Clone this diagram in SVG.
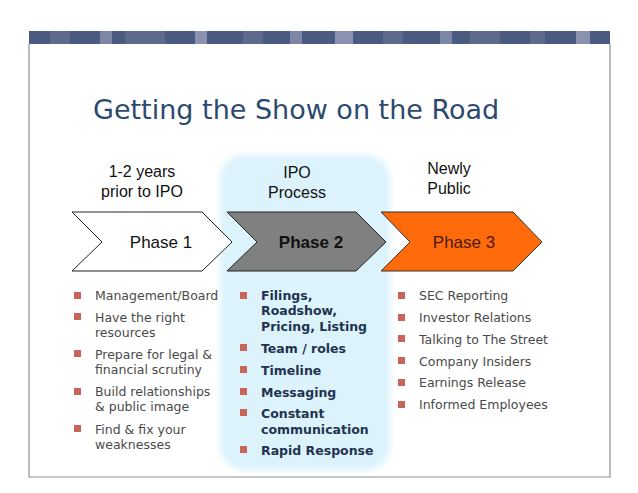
<svg xmlns="http://www.w3.org/2000/svg" width="638" height="493" viewBox="0 0 638 493">
<defs>
<style>
.b{fill:#c8645a}
.t{font-family:"DejaVu Sans",Verdana,sans-serif;font-size:12.5px;fill:#4a4a4a}
.tb{font-family:"DejaVu Sans",Verdana,sans-serif;font-size:12.5px;font-weight:bold;fill:#1f3350}
.h{font-family:"Liberation Sans",Arial,sans-serif;font-size:16px;fill:#111;text-anchor:middle}
.p{font-family:"Liberation Sans",Arial,sans-serif;font-size:17px;text-anchor:middle}
</style>
<filter id="soft" x="-20%" y="-20%" width="140%" height="140%"><feGaussianBlur stdDeviation="3"/></filter>
</defs>
<rect width="638" height="493" fill="#fff"/>
<g id="frame">
<path d="M29 44 V477 H610 V44" fill="none" stroke="#8a8f99" stroke-width="1.2"/>
<rect x="29" y="31" width="581" height="13" fill="#4a5a80"/>
<rect x="50" y="31" width="20" height="13" fill="#5d6a8c"/>
<rect x="100" y="31" width="12" height="13" fill="#7d86a6"/>
<rect x="125" y="31" width="40" height="13" fill="#5d6a8c"/>
<rect x="195" y="31" width="12" height="13" fill="#8a92b0"/>
<rect x="243" y="31" width="20" height="13" fill="#5d6a8c"/>
<rect x="290" y="31" width="12" height="13" fill="#7d86a6"/>
<rect x="335" y="31" width="18" height="13" fill="#8a92b0"/>
<rect x="383" y="31" width="20" height="13" fill="#5d6a8c"/>
<rect x="440" y="31" width="12" height="13" fill="#7d86a6"/>
<rect x="470" y="31" width="30" height="13" fill="#5d6a8c"/>
<rect x="530" y="31" width="15" height="13" fill="#5d6a8c"/>
<rect x="576" y="31" width="14" height="13" fill="#8a92b0"/>
</g>
<rect id="highlight" x="220" y="155" width="170" height="315" rx="24" fill="#dcf3fc" filter="url(#soft)"/>
<text id="title" x="93" y="119" font-family="'DejaVu Sans',Verdana,sans-serif" font-size="27" fill="#2c4a6e">Getting the Show on the Road</text>
<g id="headers">
<text class="h" x="142" y="177">1-2 years</text>
<text class="h" x="142" y="197">prior to IPO</text>
<text class="h" x="297" y="178">IPO</text>
<text class="h" x="297" y="198">Process</text>
<text class="h" x="449" y="174">Newly</text>
<text class="h" x="449" y="194">Public</text>
</g>
<g id="phase1">
<polygon points="72,212 202,212 232,242 202,271 72,271 102,242" fill="#fff" stroke="#222" stroke-width="1"/>
<text class="p" x="161" y="248" fill="#111">Phase 1</text>
</g>
<g id="phase2">
<polygon points="227,212 356,212 386,242 356,271 227,271 257,242" fill="#808080" stroke="#222" stroke-width="1"/>
<text class="p" x="311" y="248" font-weight="bold" fill="#111">Phase 2</text>
</g>
<g id="phase3">
<polygon points="381,212 513,212 542,242 513,271 381,271 410,242" fill="#ff6a0a" stroke="#333" stroke-width="1"/>
<text class="p" x="464" y="248" fill="#4a1a05">Phase 3</text>
</g>
<g id="list1">
<rect class="b" x="74" y="292" width="7" height="7"/><text class="t" x="95" y="300">Management/Board</text>
<rect class="b" x="74" y="313" width="7" height="7"/><text class="t" x="95" y="322">Have the right</text><text class="t" x="95" y="337">resources</text>
<rect class="b" x="74" y="350" width="7" height="7"/><text class="t" x="95" y="359">Prepare for legal &amp;</text><text class="t" x="95" y="374">financial scrutiny</text>
<rect class="b" x="74" y="388" width="7" height="7"/><text class="t" x="95" y="396">Build relationships</text><text class="t" x="95" y="411">&amp; public image</text>
<rect class="b" x="74" y="425" width="7" height="7"/><text class="t" x="95" y="434">Find &amp; fix your</text><text class="t" x="95" y="449">weaknesses</text>
</g>
<g id="list2">
<rect class="b" x="240" y="292" width="7" height="7"/><text class="tb" x="261" y="300">Filings,</text><text class="tb" x="261" y="315">Roadshow,</text><text class="tb" x="261" y="331">Pricing, Listing</text>
<rect class="b" x="240" y="344" width="7" height="7"/><text class="tb" x="261" y="353">Team / roles</text>
<rect class="b" x="240" y="366" width="7" height="7"/><text class="tb" x="261" y="375">Timeline</text>
<rect class="b" x="240" y="388" width="7" height="7"/><text class="tb" x="261" y="397">Messaging</text>
<rect class="b" x="240" y="409" width="7" height="7"/><text class="tb" x="261" y="418">Constant</text><text class="tb" x="261" y="434">communication</text>
<rect class="b" x="240" y="446" width="7" height="7"/><text class="tb" x="261" y="455">Rapid Response</text>
</g>
<g id="list3">
<rect class="b" x="398" y="292" width="7" height="7"/><text class="t" x="419" y="300">SEC Reporting</text>
<rect class="b" x="398" y="314" width="7" height="7"/><text class="t" x="419" y="322">Investor Relations</text>
<rect class="b" x="398" y="335" width="7" height="7"/><text class="t" x="419" y="344">Talking to The Street</text>
<rect class="b" x="398" y="357" width="7" height="7"/><text class="t" x="419" y="366">Company Insiders</text>
<rect class="b" x="398" y="379" width="7" height="7"/><text class="t" x="419" y="387">Earnings Release</text>
<rect class="b" x="398" y="401" width="7" height="7"/><text class="t" x="419" y="409">Informed Employees</text>
</g>
</svg>
